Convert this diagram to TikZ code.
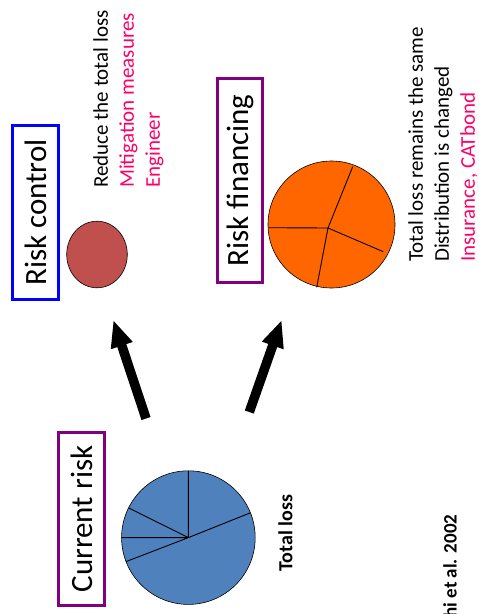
\documentclass[tikz,border=0pt]{standalone}
\usepackage{fontspec}
\setmainfont{Carlito}
\usetikzlibrary{arrows.meta,shapes.geometric}
\definecolor{boxblue}{HTML}{0000FF}
\definecolor{boxpurple}{HTML}{800080}
\definecolor{hotpink}{HTML}{FF0066}
\definecolor{piered}{HTML}{C0504D}
\definecolor{pieblue}{HTML}{4F81BD}
\definecolor{pieorange}{HTML}{FF6600}
\tikzset{
  titlebox/.style={draw=#1, line width=3pt, rotate=90, inner sep=0pt,
    font=\fontsize{31}{36}\selectfont, text=black},
  note/.style={rotate=90, inner sep=0pt, align=left, anchor=west,
    font=\fontsize{21}{26}\selectfont},
  boldnote/.style={rotate=90, inner sep=0pt, font=\fontsize{20}{24}\selectfont\bfseries},
  pieedge/.style={draw=black, line width=0.6pt},
  slice/.style={draw=black, line width=0.9pt},
  bigarrow/.style={line width=9.5pt, -{Triangle[length=27pt,width=21pt]}}
}
\begin{document}
\begin{tikzpicture}[x=1pt,y=-1pt]
\useasboundingbox (0,0) rectangle (479,614);
% boxes
\node[titlebox=boxblue, minimum width=174pt, minimum height=46pt] (rc) at (35.5,212.5) {Risk control};
\node[titlebox=boxpurple, minimum width=204pt, minimum height=45pt] (rf) at (240,180.5) {Risk financing};
\node[titlebox=boxpurple, minimum width=173pt, minimum height=46pt] (cr) at (81.5,519) {Current risk};
% red circle
\node[pieedge, fill=piered, ellipse, minimum width=60.6pt, minimum height=66.6pt, inner sep=0pt] (redpie) at (97,254.5) {};
% orange pie
\draw[pieedge, fill=pieorange] (331.5,224.5) circle[radius=63.5];
\coordinate (oc) at (328,228);
\coordinate (o1) at (352.7,166.7);
\coordinate (o2) at (383.3,251.7);
\coordinate (o3) at (316.7,287.3);
\coordinate (o4) at (268.3,227.7);
\draw[slice] (oc) -- (o1) (oc) -- (o2) (oc) -- (o3) (oc) -- (o4);
% blue pie
\draw[pieedge, fill=pieblue] (188.4,537.6) circle[radius=66.8];
\coordinate (bc) at (188.4,537.6);
\coordinate (b1) at (188.4,470.8);
\coordinate (b2) at (128.6,507.9);
\coordinate (b3) at (121.6,537.6);
\coordinate (b4) at (126.0,561.6);
\coordinate (b5) at (250.4,512.8);
\draw[slice] (bc) -- (b1) (bc) -- (b2) (bc) -- (b3) (bc) -- (b4) (bc) -- (b5);
% arrows
\coordinate (a1s) at (146,418.5);
\coordinate (a1e) at (113.3,320);
\coordinate (a2s) at (249.3,412);
\coordinate (a2e) at (281.7,320);
\draw[bigarrow] (a1s) -- (a1e);
\draw[bigarrow] (a2s) -- (a2e);
% texts
\node[note] (ctrltext) at (128.5,188) {Reduce the total loss\\\textcolor{hotpink}{Mitigation measures}\\\textcolor{hotpink}{Engineer}};
\node[note] (fintext) at (443,262) {Total loss remains the same\\Distribution is changed\\\textcolor{hotpink}{Insurance, CATbond}};
\node[boldnote] (totloss) at (285.5,533) {Total loss};
\node[boldnote, anchor=east, font=\fontsize{19}{23}\selectfont\bfseries] (cite) at (450,514.5) {hi et al. 2002};
\end{tikzpicture}
\end{document}
